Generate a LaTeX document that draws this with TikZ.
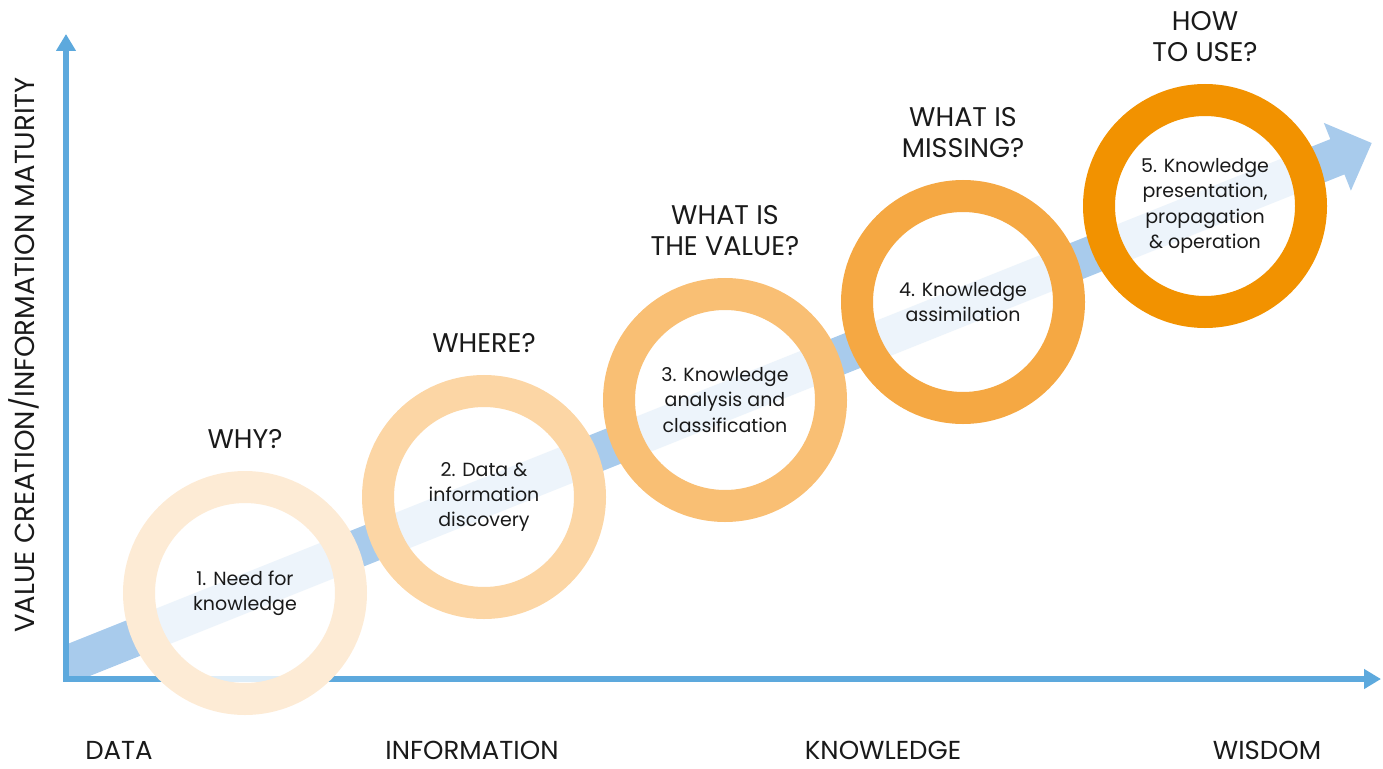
\documentclass[tikz,border=0pt]{standalone}
\usepackage{fontspec}
\setmainfont{Poppins}
\usetikzlibrary{positioning,arrows.meta}

\definecolor{axisblue}{HTML}{5DA9DD}
\definecolor{arrowblue}{HTML}{A8CBEC}
\definecolor{ringa}{HTML}{FDEBD5}
\definecolor{ringb}{HTML}{FCD6A5}
\definecolor{ringc}{HTML}{F9BF74}
\definecolor{ringd}{HTML}{F5A843}
\definecolor{ringe}{HTML}{F29200}
\definecolor{txt}{HTML}{1A1A1A}

\tikzset{
  ring/.style={circle, minimum size=212pt, inner sep=0pt, line width=32pt,
    fill=white, fill opacity=0.8, draw opacity=1, text opacity=1,
    align=center, text=txt, font=\fontsize{19}{25.3}\selectfont},
  question/.style={inner sep=0pt, text depth=0pt, align=center, text=txt,
    font=\fontsize{27}{31}\selectfont},
  axislabel/.style={inner sep=0pt, text depth=0pt, anchor=base, text=txt,
    font=\fontsize{26}{30}\selectfont},
  axisline/.style={axisblue, line width=6pt, -{Triangle[width=19pt,length=17pt]}}
}

\begin{document}
\begin{tikzpicture}[x=1pt, y=-1pt]
\useasboundingbox (0,0) rectangle (1383,768);
\coordinate (origin) at (66,679);
\coordinate (ytop) at (66,34);
\coordinate (xend) at (1381,679);
\coordinate (tail) at (30,679.4);

% big arrow across the chart
\begin{scope}
\clip (66,0) rectangle (1383,679);
\fill[arrowblue, shift={(tail)}, rotate=21.79]
  (0,19) -- (1408,19) -- (1408,36.5) -- (1445,0) -- (1408,-36.5) -- (1408,-19) -- (0,-19) -- cycle;
\end{scope}

\draw[axisline] (origin) -- (ytop);
\draw[axisline] (63,679) -- (xend);

\node[ring, draw=ringa] (need) at (245,593) {1. Need for\\knowledge};
\node[ring, draw=ringb] (discovery) at (484,497) {2. Data \&\\information\\discovery};
\node[ring, draw=ringc] (analysis) at (725,400) {3. Knowledge\\analysis and\\classification};
\node[ring, draw=ringd] (assimilation) at (963,302) {4. Knowledge\\assimilation};
\node[ring, draw=ringe] (presentation) at (1205,206) {5. Knowledge\\presentation,\\propagation\\\& operation};

\node[question, above=22pt of need] (why) {WHY?};
\node[question, above=22pt of discovery] (where) {WHERE?};
\node[question, above=22pt of analysis] (value) {WHAT IS\\THE VALUE?};
\node[question, above=22pt of assimilation] (missing) {WHAT IS\\MISSING?};
\node[question, above=22pt of presentation] (use) {HOW\\TO USE?};

\node[axislabel] (data) at (119,759) {DATA};
\node[axislabel] (information) at (472,759) {INFORMATION};
\node[axislabel] (knowledge) at (883,759) {KNOWLEDGE};
\node[axislabel] (wisdom) at (1267,759) {WISDOM};
\node[axislabel, anchor=center, rotate=90, font=\fontsize{27.5}{30}\selectfont] (maturity) at (22,355) {VALUE CREATION/INFORMATION MATURITY};
\end{tikzpicture}
\end{document}
